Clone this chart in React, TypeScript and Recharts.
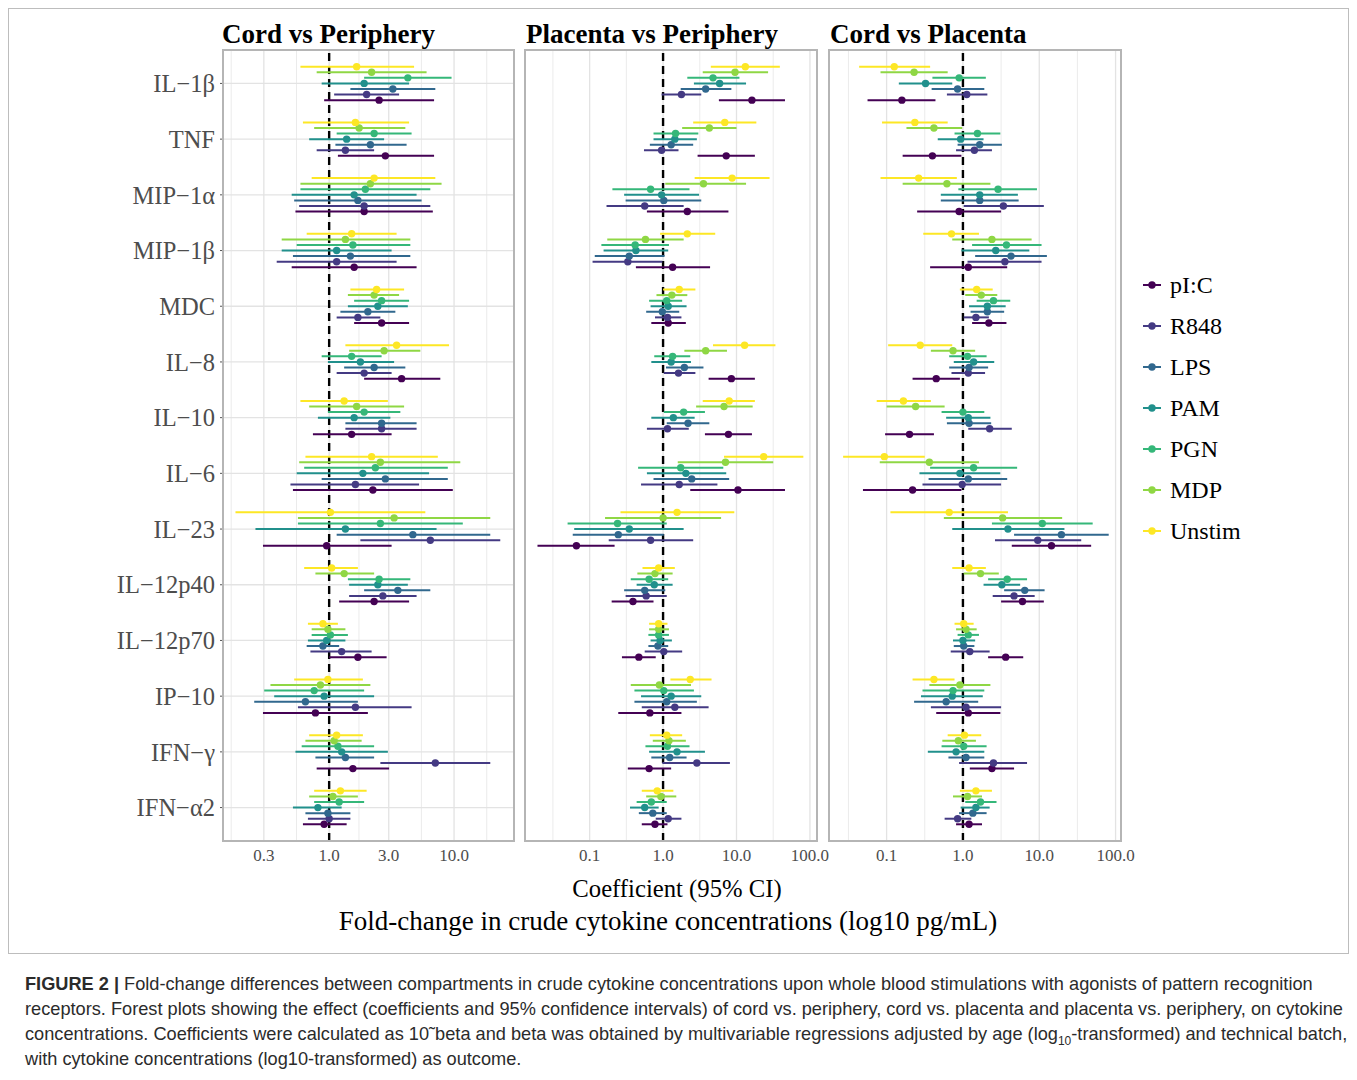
import React from 'react';
import { ScatterChart, Scatter, XAxis, YAxis, CartesianGrid, ReferenceLine, ErrorBar } from 'recharts';

// cytokines, top to bottom
const cytokines = ['IL−1β', 'TNF', 'MIP−1α', 'MIP−1β', 'MDC', 'IL−8', 'IL−10', 'IL−6', 'IL−23', 'IL−12p40', 'IL−12p70', 'IP−10', 'IFN−γ', 'IFN−α2'];
const stims = ['pI:C', 'R848', 'LPS', 'PAM', 'PGN', 'MDP', 'Unstim'];
const stimColors = ['#440154', '#443A83', '#31688E', '#21908C', '#35B779', '#8FD744', '#FDE725'];

// beta = log10(coefficient), rows are [lower CI, estimate, upper CI] per cytokine
// Cord vs Periphery
const cpPIC = [[-0.04, 0.40, 0.84], [0.07, 0.45, 0.84], [-0.27, 0.28, 0.83], [-0.30, 0.20, 0.70], [0.20, 0.42, 0.64], [0.28, 0.58, 0.89], [-0.13, 0.18, 0.50], [-0.29, 0.35, 0.99], [-0.53, -0.02, 0.50], [0.08, 0.36, 0.64], [0.00, 0.23, 0.46], [-0.53, -0.11, 0.31], [-0.10, 0.19, 0.48], [-0.21, -0.04, 0.14]];
const cpR848 = [[0.04, 0.30, 0.56], [-0.10, 0.13, 0.36], [-0.24, 0.28, 0.81], [-0.42, 0.06, 0.54], [0.06, 0.23, 0.41], [0.06, 0.28, 0.50], [0.13, 0.42, 0.70], [-0.31, 0.21, 0.72], [0.25, 0.81, 1.37], [0.16, 0.43, 0.70], [-0.15, 0.10, 0.34], [-0.25, 0.21, 0.66], [0.41, 0.85, 1.29], [-0.17, 0.00, 0.17]];
const cpLPS = [[0.17, 0.51, 0.85], [0.05, 0.33, 0.62], [-0.28, 0.23, 0.74], [-0.29, 0.17, 0.65], [0.09, 0.31, 0.53], [0.12, 0.36, 0.61], [0.13, 0.42, 0.70], [-0.06, 0.45, 0.95], [0.06, 0.67, 1.29], [0.28, 0.55, 0.81], [-0.18, -0.05, 0.08], [-0.60, -0.19, 0.23], [-0.11, 0.13, 0.36], [-0.19, -0.01, 0.17]];
const cpPAM = [[-0.06, 0.28, 0.64], [-0.16, 0.14, 0.44], [-0.30, 0.20, 0.70], [-0.38, 0.06, 0.50], [0.15, 0.39, 0.63], [-0.01, 0.25, 0.52], [-0.09, 0.20, 0.49], [-0.26, 0.27, 0.80], [-0.59, 0.13, 0.86], [0.16, 0.39, 0.63], [-0.17, -0.02, 0.13], [-0.44, -0.04, 0.36], [-0.27, 0.10, 0.47], [-0.29, -0.09, 0.10]];
const cpPGN = [[0.28, 0.63, 0.98], [0.06, 0.36, 0.66], [-0.23, 0.29, 0.81], [-0.26, 0.19, 0.65], [0.20, 0.42, 0.64], [-0.06, 0.18, 0.42], [-0.01, 0.28, 0.57], [-0.20, 0.37, 0.95], [-0.25, 0.41, 1.07], [0.15, 0.40, 0.65], [-0.14, 0.01, 0.15], [-0.52, -0.12, 0.28], [-0.22, 0.07, 0.36], [-0.12, 0.08, 0.28]];
const cpMDP = [[-0.10, 0.34, 0.78], [-0.12, 0.24, 0.61], [-0.23, 0.33, 0.90], [-0.38, 0.13, 0.65], [0.15, 0.36, 0.56], [0.16, 0.44, 0.73], [-0.16, 0.22, 0.60], [-0.24, 0.41, 1.05], [-0.25, 0.52, 1.29], [-0.11, 0.12, 0.36], [-0.14, -0.01, 0.13], [-0.47, -0.07, 0.33], [-0.19, 0.04, 0.26], [-0.16, 0.03, 0.23]];
const cpUnstim = [[-0.23, 0.22, 0.68], [-0.21, 0.21, 0.64], [-0.14, 0.36, 0.85], [-0.18, 0.18, 0.54], [0.17, 0.38, 0.60], [0.13, 0.54, 0.96], [-0.23, 0.12, 0.47], [-0.19, 0.34, 0.87], [-0.75, 0.01, 0.77], [-0.20, 0.02, 0.23], [-0.17, -0.05, 0.07], [-0.28, -0.01, 0.27], [-0.16, 0.06, 0.27], [-0.12, 0.09, 0.30]];

// Placenta vs Periphery
const ppPIC = [[0.76, 1.21, 1.66], [0.47, 0.86, 1.25], [-0.22, 0.33, 0.89], [-0.37, 0.13, 0.64], [-0.16, 0.07, 0.31], [0.62, 0.93, 1.25], [0.57, 0.89, 1.21], [0.37, 1.02, 1.66], [-1.71, -1.18, -0.66], [-0.70, -0.41, -0.13], [-0.56, -0.33, -0.10], [-0.61, -0.18, 0.25], [-0.48, -0.19, 0.11], [-0.29, -0.11, 0.06]];
const ppR848 = [[-0.02, 0.25, 0.52], [-0.26, -0.02, 0.21], [-0.77, -0.25, 0.28], [-0.96, -0.48, -0.01], [-0.11, 0.06, 0.25], [0.01, 0.21, 0.44], [-0.22, 0.06, 0.35], [-0.30, 0.22, 0.74], [-0.74, -0.17, 0.41], [-0.51, -0.23, 0.05], [-0.25, 0.01, 0.26], [-0.29, 0.16, 0.62], [-0.01, 0.46, 0.91], [-0.10, 0.07, 0.25]];
const ppLPS = [[0.24, 0.58, 0.93], [-0.18, 0.11, 0.41], [-0.51, 0.01, 0.52], [-0.93, -0.46, 0.02], [-0.23, -0.01, 0.22], [0.04, 0.29, 0.55], [0.05, 0.34, 0.63], [-0.13, 0.39, 0.90], [-1.23, -0.61, 0.01], [-0.53, -0.25, 0.03], [-0.20, -0.07, 0.07], [-0.39, 0.05, 0.46], [-0.16, 0.09, 0.32], [-0.33, -0.14, 0.05]];
const ppPAM = [[0.42, 0.77, 1.13], [-0.13, 0.16, 0.46], [-0.53, -0.02, 0.49], [-0.81, -0.37, 0.07], [-0.17, 0.07, 0.32], [-0.16, 0.11, 0.38], [-0.16, 0.14, 0.43], [-0.22, 0.31, 0.86], [-1.21, -0.46, 0.28], [-0.36, -0.12, 0.13], [-0.17, -0.04, 0.12], [-0.30, 0.11, 0.52], [-0.19, 0.19, 0.57], [-0.45, -0.25, -0.06]];
const ppPGN = [[0.33, 0.68, 1.04], [-0.13, 0.17, 0.48], [-0.69, -0.17, 0.36], [-0.84, -0.38, 0.08], [-0.19, 0.05, 0.26], [-0.12, 0.13, 0.37], [0.01, 0.28, 0.57], [-0.34, 0.24, 0.82], [-1.30, -0.62, 0.05], [-0.44, -0.19, 0.07], [-0.20, -0.06, 0.08], [-0.39, 0.01, 0.42], [-0.24, 0.06, 0.36], [-0.36, -0.16, 0.05]];
const ppMDP = [[0.54, 0.98, 1.43], [0.26, 0.63, 1.00], [0.03, 0.55, 1.13], [-0.76, -0.24, 0.28], [-0.09, 0.12, 0.33], [0.29, 0.58, 0.87], [0.45, 0.83, 1.22], [0.20, 0.85, 1.50], [-0.79, 0.00, 0.79], [-0.35, -0.11, 0.13], [-0.19, -0.06, 0.08], [-0.44, -0.05, 0.38], [-0.14, 0.08, 0.31], [-0.23, -0.03, 0.18]];
const ppUnstim = [[0.65, 1.12, 1.59], [0.41, 0.84, 1.27], [0.43, 0.94, 1.45], [-0.04, 0.33, 0.71], [0.00, 0.22, 0.44], [0.68, 1.11, 1.53], [0.54, 0.90, 1.25], [0.83, 1.37, 1.91], [-0.58, 0.19, 0.97], [-0.28, -0.06, 0.16], [-0.19, -0.06, 0.06], [0.10, 0.37, 0.66], [-0.18, 0.05, 0.26], [-0.29, -0.08, 0.14]];

// Cord vs Placenta
const cplPIC = [[-1.25, -0.80, -0.36], [-0.79, -0.40, -0.02], [-0.60, -0.05, 0.50], [-0.43, 0.07, 0.58], [0.12, 0.34, 0.57], [-0.66, -0.35, -0.04], [-1.02, -0.70, -0.38], [-1.31, -0.66, -0.02], [0.64, 1.16, 1.68], [0.50, 0.78, 1.06], [0.33, 0.56, 0.79], [-0.35, 0.07, 0.49], [0.09, 0.38, 0.67], [-0.09, 0.08, 0.25]];
const cplR848 = [[-0.21, 0.05, 0.32], [-0.09, 0.15, 0.38], [0.01, 0.53, 1.06], [0.06, 0.55, 1.03], [0.01, 0.17, 0.34], [-0.15, 0.07, 0.29], [0.07, 0.35, 0.64], [-0.53, -0.01, 0.50], [0.42, 0.98, 1.55], [0.39, 0.67, 0.94], [-0.16, 0.09, 0.35], [-0.42, 0.04, 0.50], [-0.05, 0.40, 0.84], [-0.24, -0.07, 0.11]];
const cplLPS = [[-0.41, -0.07, 0.28], [-0.07, 0.22, 0.51], [-0.29, 0.22, 0.73], [0.16, 0.63, 1.10], [0.10, 0.32, 0.54], [-0.18, 0.08, 0.33], [-0.21, 0.08, 0.37], [-0.45, 0.07, 0.58], [0.67, 1.29, 1.91], [0.54, 0.81, 1.07], [-0.12, 0.01, 0.15], [-0.64, -0.22, 0.20], [-0.19, 0.04, 0.28], [-0.05, 0.13, 0.31]];
const cplPAM = [[-0.84, -0.49, -0.14], [-0.33, -0.03, 0.27], [-0.29, 0.22, 0.72], [-0.02, 0.43, 0.87], [0.08, 0.32, 0.56], [-0.12, 0.14, 0.41], [-0.22, 0.07, 0.36], [-0.57, -0.04, 0.49], [-0.14, 0.59, 1.33], [0.27, 0.51, 0.75], [-0.13, 0.00, 0.16], [-0.55, -0.14, 0.26], [-0.46, -0.09, 0.28], [-0.03, 0.17, 0.35]];
const cplPGN = [[-0.40, -0.05, 0.30], [-0.11, 0.19, 0.49], [-0.06, 0.46, 0.97], [0.12, 0.57, 1.03], [0.18, 0.40, 0.62], [-0.18, 0.06, 0.31], [-0.28, 0.00, 0.28], [-0.43, 0.14, 0.71], [0.38, 1.04, 1.70], [0.33, 0.58, 0.84], [-0.07, 0.07, 0.21], [-0.53, -0.13, 0.28], [-0.28, 0.01, 0.31], [0.03, 0.23, 0.44]];
const cplMDP = [[-1.08, -0.64, -0.20], [-0.74, -0.38, -0.01], [-0.79, -0.21, 0.36], [-0.14, 0.38, 0.90], [0.03, 0.24, 0.45], [-0.42, -0.13, 0.16], [-1.00, -0.62, -0.24], [-1.09, -0.44, 0.21], [-0.25, 0.52, 1.30], [0.01, 0.23, 0.47], [-0.09, 0.04, 0.18], [-0.44, -0.04, 0.36], [-0.27, -0.06, 0.17], [-0.13, 0.06, 0.25]];
const cplUnstim = [[-1.36, -0.90, -0.43], [-1.06, -0.63, -0.20], [-1.08, -0.58, -0.08], [-0.52, -0.15, 0.21], [-0.04, 0.18, 0.39], [-0.98, -0.56, -0.14], [-1.13, -0.78, -0.42], [-1.57, -1.03, -0.50], [-0.95, -0.18, 0.59], [-0.14, 0.08, 0.30], [-0.11, 0.01, 0.14], [-0.66, -0.38, -0.11], [-0.20, 0.02, 0.24], [-0.04, 0.17, 0.38]];

// axis breaks (fold-change)
const breaksCP = [0.3, 1, 3, 10];
const breaksWide = [0.1, 1, 10, 100];

const SERIF = '"Liberation Serif", "Times New Roman", serif';

const toRows = (ci: number[][], s: number) =>
    ci.map(([lo, est, hi], i) => ({ x: est, y: i + (3 - s) * 0.1, err: [est - lo, hi - est] }));

// ggplot style minor breaks: midpoints, extended one step each side
const minorOf = (major: number[], lo: number, hi: number) => {
    const step = major[1] - major[0];
    const b = [major[0] - step, ...major, major[major.length - 1] + step];
    const out: number[] = [];
    for (let i = 0; i < b.length - 1; i++) {
        const m = (b[i] + b[i + 1]) / 2;
        if (m > lo && m < hi) out.push(m);
    }
    return out;
};

const catIdx = cytokines.map((_, i) => i);
const PLOT_H = 791;
const RIGHT_PAD = 24;

type PanelProps = {
    series: number[][][];
    breaks: number[];
    domain: [number, number];
    left: number;
    plotW: number;
    yWidth: number;
    showLabels: boolean;
};

const Panel = ({ series, breaks, domain, left, plotW, yWidth, showLabels }: PanelProps) => {
    const major = breaks.map((b) => Math.log10(b));
    const minor = minorOf(major, domain[0], domain[1]);
    return (
        <div style={{ position: 'absolute', left, top: 42 }}>
            <ScatterChart width={yWidth + plotW + RIGHT_PAD} height={PLOT_H + 30} margin={{ top: 0, right: RIGHT_PAD, bottom: 0, left: 0 }}>
                <CartesianGrid stroke="#e6e6e6" strokeWidth={0.8} verticalValues={minor} horizontal={false} />
                <CartesianGrid stroke="#e3e3e3" strokeWidth={1.3} verticalValues={major} horizontalValues={catIdx} />
                <XAxis
                    type="number"
                    dataKey="x"
                    domain={domain}
                    allowDataOverflow
                    ticks={major}
                    interval={0}
                    height={30}
                    axisLine={false}
                    tickLine={false}
                    tickFormatter={(v: number) => Math.pow(10, v).toFixed(1)}
                    tick={{ fill: '#4d4d4d', fontSize: 17, fontFamily: SERIF }}
                />
                <YAxis
                    type="number"
                    dataKey="y"
                    domain={[-0.6, 13.6]}
                    reversed
                    allowDataOverflow
                    ticks={catIdx}
                    interval={0}
                    width={yWidth}
                    axisLine={false}
                    tickSize={3}
                    tickMargin={5}
                    tickLine={{ stroke: '#555' }}
                    tick={showLabels ? { fill: '#4d4d4d', fontSize: 24.5, fontFamily: SERIF } : false}
                    tickFormatter={(v: number) => cytokines[v] ?? ''}
                />
                <ReferenceLine x={0} stroke="#000" strokeWidth={2.4} strokeDasharray="8 5" />
                {series.map((ci, s) => (
                    <Scatter
                        key={'e' + s}
                        data={toRows(ci, s)}
                        isAnimationActive={false}
                        shape={() => <g />}
                    >
                        <ErrorBar dataKey="err" direction="x" width={0} stroke={stimColors[s]} strokeWidth={2} isAnimationActive={false} />
                    </Scatter>
                ))}
                {series.map((ci, s) => (
                    <Scatter
                        key={'p' + s}
                        data={toRows(ci, s)}
                        isAnimationActive={false}
                        shape={(p: any) => <circle cx={p.cx} cy={p.cy} r={3.7} fill={stimColors[s]} />}
                    />
                ))}
            </ScatterChart>
            <div
                style={{
                    position: 'absolute',
                    left: yWidth - 1,
                    top: -1,
                    width: plotW + 2,
                    height: PLOT_H + 2,
                    border: '2px solid #b5b5b5',
                    boxSizing: 'border-box',
                    pointerEvents: 'none',
                }}
            />
        </div>
    );
};

const Legend = () => (
    <svg width={140} height={300} style={{ position: 'absolute', left: 1130, top: 255 }}>
        {stims.map((s, i) => {
            const cy = 22 + i * 41;
            return (
                <g key={s}>
                    <line x1={5} x2={23} y1={cy} y2={cy} stroke={stimColors[i]} strokeWidth={2} />
                    <circle cx={14} cy={cy} r={3.7} fill={stimColors[i]} />
                    <text x={32} y={cy + 8} fontSize={24} fontFamily={SERIF} fill="#000">{s}</text>
                </g>
            );
        })}
    </svg>
);

const captionLines = [
    'Fold-change differences between compartments in crude cytokine concentrations upon whole blood stimulations with agonists of pattern recognition',
    'receptors. Forest plots showing the effect (coefficients and 95% confidence intervals) of cord vs. periphery, cord vs. placenta and placenta vs. periphery, on cytokine',
];

export default function App() {
    const titleStyle: React.CSSProperties = {
        position: 'absolute', top: 13, fontFamily: SERIF, fontWeight: 'bold', fontSize: 27, lineHeight: '27px', whiteSpace: 'nowrap',
    };
    const capStyle: React.CSSProperties = {
        position: 'absolute', left: 17, fontFamily: '"Liberation Sans", Arial, sans-serif', fontSize: 18.2, lineHeight: '25px',
        color: '#2b2b2b', whiteSpace: 'nowrap',
    };
    const axisTitle: React.CSSProperties = {
        position: 'absolute', left: 0, textAlign: 'center', fontFamily: SERIF, color: '#000', whiteSpace: 'nowrap',
    };
    return (
        <div style={{ position: 'relative', width: 1341, height: 1064, background: '#fff' }}>
            <div style={{ position: 'absolute', left: 0, top: 0, width: 1341, height: 946, border: '1px solid #bdbdbd', boxSizing: 'border-box' }} />
            <div style={{ ...titleStyle, left: 214 }}>Cord vs Periphery</div>
            <div style={{ ...titleStyle, left: 518 }}>Placenta vs Periphery</div>
            <div style={{ ...titleStyle, left: 822 }}>Cord vs Placenta</div>

            <Panel series={[cpPIC, cpR848, cpLPS, cpPAM, cpPGN, cpMDP, cpUnstim]} breaks={breaksCP} domain={[-0.85, 1.48]} left={92} plotW={291} yWidth={123} showLabels />
            <Panel series={[ppPIC, ppR848, ppLPS, ppPAM, ppPGN, ppMDP, ppUnstim]} breaks={breaksWide} domain={[-1.88, 2.1]} left={513.7} plotW={292.3} yWidth={3} showLabels={false} />
            <Panel series={[cplPIC, cplR848, cplLPS, cplPAM, cplPGN, cplMDP, cplUnstim]} breaks={breaksWide} domain={[-1.755, 2.075]} left={817.7} plotW={292.3} yWidth={3} showLabels={false} />

            <Legend />

            <div style={{ ...axisTitle, width: 1338, top: 869, fontSize: 24.7, lineHeight: '24px' }}>
                <span style={{ fontFamily: SERIF }}>Coefficient (95% CI)</span>
            </div>
            <div style={{ ...axisTitle, width: 1320, top: 900, fontSize: 27, lineHeight: '27px' }}>
                <span style={{ fontFamily: SERIF }}>Fold-change in crude cytokine concentrations (log10 pg/mL)</span>
            </div>

            <div style={{ ...capStyle, top: 964 }}>
                <b>FIGURE 2 |</b> {captionLines[0]}
            </div>
            <div style={{ ...capStyle, top: 989 }}>{captionLines[1]}</div>
            <div style={{ ...capStyle, top: 1014 }}>
                concentrations. Coefficients were calculated as 10˜beta and beta was obtained by multivariable regressions adjusted by age (log<sub style={{ fontSize: 12, lineHeight: 0 }}>10</sub>-transformed) and technical batch,
            </div>
            <div style={{ ...capStyle, top: 1039 }}>with cytokine concentrations (log10-transformed) as outcome.</div>
        </div>
    );
}
